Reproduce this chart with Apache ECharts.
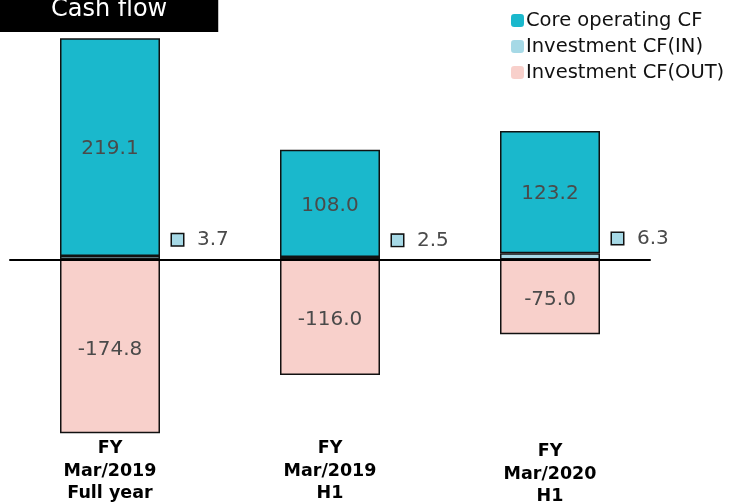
<!DOCTYPE html>
<html>
<head>
<meta charset="utf-8">
<script src="https://cdn.jsdelivr.net/npm/echarts@6/dist/echarts.min.js"></script>
<style>
  html, body { margin: 0; padding: 0; background: #fff; }
  #chart { width: 743px; height: 502px; }
</style>
</head>
<body>
<div id="chart"></div>
<script>
    // values
    const categories = ['FY\nMar/2019\nFull year', 'FY\nMar/2019\nH1', 'FY\nMar/2020\nH1'];
    const coreCF = [219.1, 108.0, 123.2];
    const investIn = [3.7, 2.5, 6.3];
    const investOut = [-174.8, -116.0, -75.0];

    const yMin = -180;
    const yMax = 230;
    const font = 'DejaVu Sans';

    const myChart = echarts.init(document.getElementById('chart'));

    // last category label sits a little lower in the original
    const categoryData = categories.map((c, i) => i === 2
        ? { value: c, textStyle: { padding: [3, 0, 0, 0] } }
        : c);

    const option = {
        animation: false,
        textStyle: { fontFamily: font },
        title: {
            text: 'Cash flow',
            left: 0,
            top: -2,
            padding: [0, 51, 10, 51],
            backgroundColor: '#000',
            textStyle: {
                color: '#fff',
                fontSize: 24,
                fontWeight: 'normal',
                fontFamily: font
            }
        },
        legend: {
            orient: 'vertical',
            left: 511,
            top: 10,
            padding: 0,
            itemWidth: 13,
            itemHeight: 13,
            itemGap: 5,
            data: ['Core operating CF', 'Investment CF(IN)', 'Investment CF(OUT)'],
            itemStyle: { borderWidth: 0 },
            textStyle: {
                fontSize: 19.5,
                lineHeight: 21,
                color: '#111',
                padding: [0, 0, 0, -3],
                fontFamily: font
            }
        },
        grid: [
            { left: 0, width: 660, top: 31, height: 407.5, outerBoundsMode: 'none' },
            { left: 10, width: 640, top: 31, height: 407.5, outerBoundsMode: 'none' }
        ],
        xAxis: [
            {
                type: 'category',
                gridIndex: 0,
                data: categoryData,
                position: 'bottom',
                axisLine: { show: false },
                axisTick: { show: false },
                axisLabel: {
                    margin: -1,
                    fontSize: 17.5,
                    fontWeight: 'bold',
                    lineHeight: 22.5,
                    color: '#000',
                    fontFamily: font
                }
            },
            {
                type: 'value',
                gridIndex: 1,
                min: 0,
                max: 1,
                z: 5,
                axisLine: { show: true, onZero: true, lineStyle: { color: '#000', width: 2 } },
                axisTick: { show: false },
                axisLabel: { show: false },
                splitLine: { show: false }
            }
        ],
        yAxis: [
            { type: 'value', gridIndex: 0, min: yMin, max: yMax, show: false, splitLine: { show: false } },
            { type: 'value', gridIndex: 1, min: yMin, max: yMax, show: false, splitLine: { show: false } }
        ],
        series: [
            {
                name: 'Investment CF(IN)',
                type: 'bar',
                stack: 'cf',
                barWidth: 100,
                data: investIn,
                itemStyle: { color: '#a6d9e6', borderColor: '#111', borderWidth: 1.5 },
                label: {
                    show: true,
                    position: 'right',
                    distance: 12,
                    offset: [0, -18],
                    formatter: p => '{sq|}{gap|}' + p.value.toFixed(1),
                    color: '#4a4a4a',
                    fontSize: 20,
                    fontFamily: font,
                    rich: {
                        sq: {
                            width: 11,
                            height: 11,
                            backgroundColor: '#a6d9e6',
                            borderColor: '#111',
                            borderWidth: 1.5
                        },
                        gap: { width: 14 }
                    }
                }
            },
            {
                name: 'Core operating CF',
                type: 'bar',
                stack: 'cf',
                barWidth: 100,
                data: coreCF,
                itemStyle: { color: '#1ab8cc', borderColor: '#111', borderWidth: 1.5 },
                label: {
                    show: true,
                    position: 'inside',
                    offset: [0, 2],
                    formatter: p => p.value.toFixed(1),
                    color: '#4a4a4a',
                    fontSize: 20,
                    fontFamily: font
                }
            },
            {
                name: 'Investment CF(OUT)',
                type: 'bar',
                stack: 'cf',
                barWidth: 100,
                data: investOut,
                itemStyle: { color: '#f8d0cb', borderColor: '#111', borderWidth: 1.5 },
                label: {
                    show: true,
                    position: 'inside',
                    offset: [0, 3],
                    formatter: p => p.value.toFixed(1),
                    color: '#4a4a4a',
                    fontSize: 20,
                    fontFamily: font
                }
            }
        ]
    };

    myChart.setOption(option);
</script>
</body>
</html>
